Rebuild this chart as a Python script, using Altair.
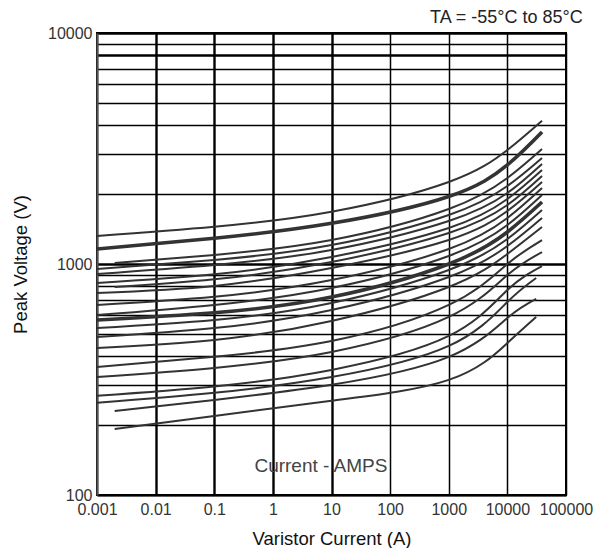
import altair as alt
import pandas as pd

# ---- data (current in A, peak voltage in V) ----
curve_ids   = [f"c{i:02d}" for i in range(1, 21)]
i_start     = [0.001, 0.001, 0.002, 0.001, 0.001, 0.001, 0.002, 0.001, 0.001, 0.001,
               0.001, 0.001, 0.001, 0.001, 0.001, 0.001, 0.001, 0.001, 0.002, 0.002]
i_end       = [39000] * 17 + [31000] * 3
v_start     = [1322, 1161, 1010, 951, 905, 827, 795, 749, 665, 601,
               572, 528, 483, 433, 358, 324, 269, 251, 231, 193]
v_at_0p1    = [1450, 1292, 1094, 1041, 990, 902, 858, 804, 722, 665,
               615, 572, 528, 469, 397, 355, 295, 277, 258, 220]
v_at_10     = [1684, 1500, 1270, 1208, 1150, 1072, 1020, 961, 852, 787,
               719, 678, 632, 567, 464, 416, 348, 324, 300, 256]
v_at_1000   = [2265, 1960, 1730, 1630, 1535, 1432, 1362, 1270, 1161, 1083,
               1000, 942, 878, 795, 665, 590, 488, 442, 396, 315]
v_at_10000  = [3116, 2683, 2357, 2176, 2029, 1911, 1800, 1696, 1582, 1475,
               1376, 1283, 1196, 1105, 1000, 896, 772, 685, 584, 455]
v_end       = [4172, 3728, 3147, 2877, 2710, 2552, 2404, 2265, 2133, 1990,
               1855, 1713, 1582, 1446, 1270, 1127, 980, 870, 706, 590]
thick       = [False, True, False, False, False, False, False, False, False, False,
               True, False, False, False, False, False, False, False, False, False]

x_ticks = [0.001, 0.01, 0.1, 1, 10, 100, 1000, 10000, 100000]
y_grid = [100, 200, 300, 400, 500, 600, 700, 800, 900,
          1000, 2000, 3000, 4000, 5000, 6000, 7000, 8000, 9000, 10000]

rows = []
for k, cid in enumerate(curve_ids):
    pts = [(i_start[k], v_start[k]), (0.1, v_at_0p1[k]), (10, v_at_10[k]),
           (1000, v_at_1000[k]), (10000, v_at_10000[k]), (i_end[k], v_end[k])]
    for cur, volt in pts:
        rows.append({"curve": cid, "I": cur, "V": volt,
                     "w": 3.6 if thick[k] else 2.0})
df = pd.DataFrame(rows)

FONT = "Liberation Sans"

x_enc = alt.X("I:Q", scale=alt.Scale(type="log", domain=[0.001, 100000]),
              axis=alt.Axis(values=x_ticks, title="Varistor Current (A)",
                            labelExpr="datum.value >= 1 ? format(datum.value, 'd') : format(datum.value, '~g')",
                            ticks=False, labelPadding=6, titlePadding=12,
                            grid=True, gridColor="#000000",
                            gridWidth={"condition": {"test": "datum.value >= 0.01 && datum.value <= 10", "value": 2.4}, "value": 1.5},
                            gridOpacity=1, domain=True, domainColor="#000000", domainWidth=2,
                            labelOverlap=False, labelFlush=False))
y_enc = alt.Y("V:Q", scale=alt.Scale(type="log", domain=[100, 10000]),
              axis=alt.Axis(values=y_grid, title="Peak Voltage (V)",
                            labelExpr="(datum.value == 100 || datum.value == 1000 || datum.value == 10000) ? format(datum.value, 'd') : ''",
                            ticks=False, labelPadding=5, titlePadding=17,
                            grid=True, gridColor="#000000",
                            gridWidth={"condition": {"test": "datum.value == 1000 || datum.value == 10000 || datum.value == 8000", "value": 2.4}, "value": 1.5},
                            gridOpacity=1, domain=True, domainColor="#555555", domainWidth=2,
                            labelOverlap=False, labelFlush=False))

lines = alt.Chart(df).mark_line(interpolate="natural", color="#333333", clip=True).encode(
    x=x_enc, y=y_enc, detail="curve:N",
    strokeWidth=alt.StrokeWidth("w:Q", scale=None, legend=None),
    order="I:Q",
)

note_df = pd.DataFrame({"I": [6.6], "V": [133], "t": ["Current  - AMPS"]})
note = alt.Chart(note_df).mark_text(font=FONT, fontSize=19, color="#444444").encode(
    x="I:Q", y="V:Q", text="t:N")

chart = alt.layer(lines, note).properties(
    width=469, height=462,
    title=alt.TitleParams("TA = -55°C to 85°C", anchor="end", font=FONT, fontSize=18,
                          fontWeight="normal", color="#222222", offset=8, dx=-10, dy=10),
    autosize=alt.AutoSizeParams(type="none"),
    padding={"left": 89, "top": 25, "right": 29, "bottom": 53},
).configure_view(stroke="#000000", strokeWidth=2).configure_axis(
    labelFont=FONT, titleFont=FONT, labelFontSize=16, titleFontSize=18.5,
    labelColor="#333333", titleColor="#111111", titleFontWeight="normal",
)

chart.save("out.html", embed_options={"renderer": "svg", "actions": False})
